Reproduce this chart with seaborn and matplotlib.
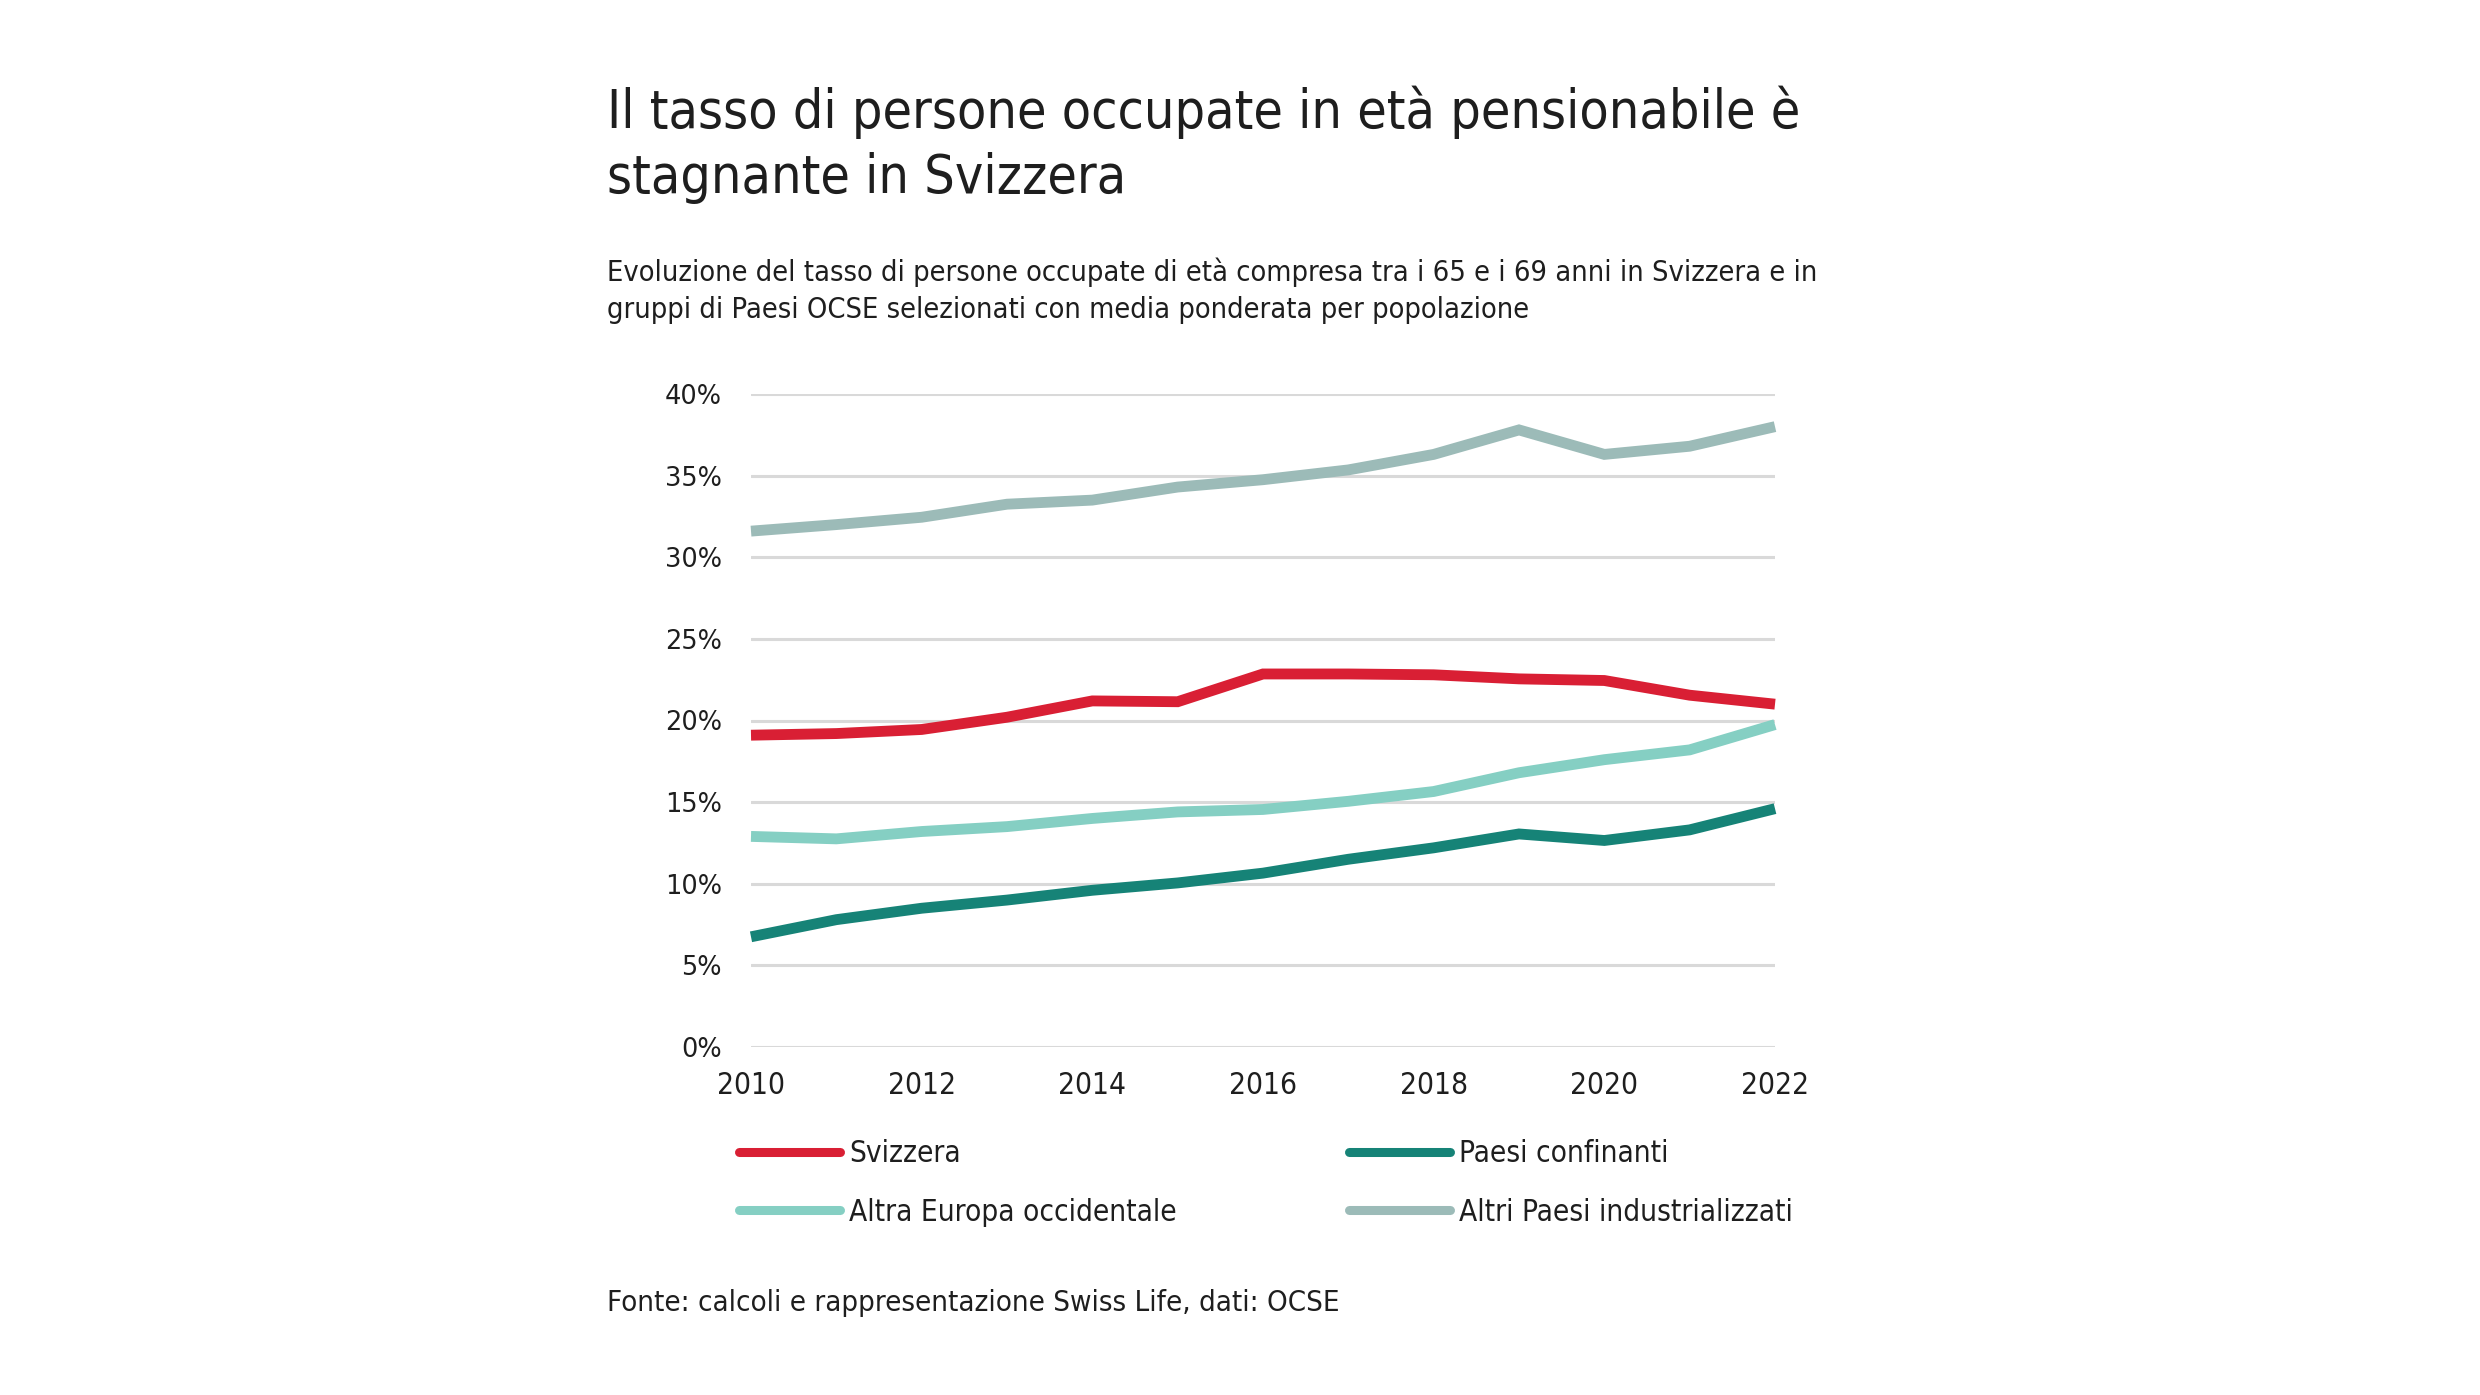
import numpy as np
import pandas as pd
import seaborn as sns
import matplotlib
matplotlib.use('Agg')
import matplotlib.pyplot as plt
from matplotlib import font_manager
from matplotlib.lines import Line2D
from matplotlib.ticker import FuncFormatter

## data (% employed, age 65-69)
years = list(range(2010, 2023))
svizzera = [19.1, 19.2, 19.45, 20.2, 21.2, 21.15, 22.85, 22.85, 22.8, 22.55, 22.45, 21.55, 21.0]
paesi_confinanti = [6.75, 7.8, 8.5, 9.0, 9.6, 10.05, 10.65, 11.5, 12.2, 13.05, 12.65, 13.3, 14.6]
altra_europa = [12.9, 12.75, 13.2, 13.5, 14.0, 14.4, 14.55, 15.05, 15.65, 16.8, 17.6, 18.2, 19.75]
altri_paesi = [31.6, 32.0, 32.45, 33.25, 33.5, 34.3, 34.75, 35.35, 36.3, 37.8, 36.3, 36.8, 38.0]

series_names = ['Svizzera', 'Paesi confinanti', 'Altra Europa occidentale', 'Altri Paesi industrializzati']
series_vals = [svizzera, paesi_confinanti, altra_europa, altri_paesi]
colors = ['#D91F34', '#168377', '#85CFC3', '#9CBBB8']

title1 = 'Il tasso di persone occupate in età pensionabile è'
title2 = 'stagnante in Svizzera'
sub1 = 'Evoluzione del tasso di persone occupate di età compresa tra i 65 e i 69 anni in Svizzera e in'
sub2 = 'gruppi di Paesi OCSE selezionati con media ponderata per popolazione'
source = 'Fonte: calcoli e rappresentazione Swiss Life, dati: OCSE'

df = pd.concat([pd.DataFrame({'anno': years, 'valore': v, 'serie': n})
                for n, v in zip(series_names, series_vals)], ignore_index=True)

sns.set_theme(style='white')

## pick a narrow face if one is installed
fonts = font_manager.fontManager.ttflist
if any(f.name == 'Liberation Sans Narrow' for f in fonts):
    nfont = dict(family='Liberation Sans Narrow')
elif any(f.name == 'DejaVu Sans' and 'condensed' in str(f.stretch) for f in fonts):
    nfont = dict(family='DejaVu Sans', stretch='condensed')
else:
    nfont = dict(family='Roboto')
plt.rcParams['font.family'] = [nfont['family'], 'DejaVu Sans']
txt_col = '#1e1e1e'

W, H = 2480, 1395
fig = plt.figure(figsize=(W / 100, H / 100), dpi=100)
renderer = fig.canvas.get_renderer()

def size_for(s, target_px, **kw):
    # font size that makes string s about target_px wide
    t = fig.text(0, 0, s, fontsize=20, **kw)
    w = t.get_window_extent(renderer).width
    t.remove()
    return 20 * target_px / w

# axes box in pixels: left 751, right 1775, top 394, bottom 1047
ax = fig.add_axes([751 / W, 1 - 1047 / H, (1775 - 751) / W, (1047 - 394) / H])

sns.lineplot(data=df, x='anno', y='valore', hue='serie', hue_order=series_names,
             palette=colors, linewidth=7.8, legend=False, ax=ax, clip_on=False)
for l in ax.get_lines():
    l.set_solid_capstyle('butt')
    l.set_solid_joinstyle('miter')

ax.set_xlim(2010, 2022)
ax.set_ylim(0, 40)
ax.set_yticks(np.arange(0, 41, 5))
ax.set_xticks(range(2010, 2023, 2))
ax.yaxis.set_major_formatter(FuncFormatter(lambda v, p: f'{v:.0f}%'))
ax.grid(axis='y', color='#D9D9D9', linewidth=2.2)
ax.grid(axis='x', visible=False)
ax.set_axisbelow(True)
for s in ax.spines.values():
    s.set_visible(False)
ax.set_xlabel('')
ax.set_ylabel('')

xsize = size_for('2010', 68, **nfont)
ysize = size_for('40%', 57, family='DejaVu Sans')
ax.tick_params(axis='y', length=0, pad=21, labelsize=ysize, labelcolor=txt_col)
ax.tick_params(axis='x', length=0, pad=17, labelsize=xsize, labelcolor=txt_col)
for t in ax.get_yticklabels():
    t.set_fontfamily('DejaVu Sans')
for t in ax.get_xticklabels():
    t.set_fontproperties(font_manager.FontProperties(size=xsize, **nfont))

## legend: two columns placed separately
lsize = size_for('Altri Paesi industrializzati', 334, **nfont)
lprop = font_manager.FontProperties(size=lsize, **nfont)
hl = 101 / (lsize * 100 / 72)
cols = [([0, 2], 739), ([1, 3], 1349)]
for idx, xpx in cols:
    hs = [Line2D([0], [0], color=colors[i], linewidth=6.5) for i in idx]
    leg = fig.legend(hs, [series_names[i] for i in idx], frameon=False, loc='upper left',
                     bbox_to_anchor=(xpx / W, 1 - 1139 / H), prop=lprop,
                     handlelength=hl, handletextpad=0.3, labelspacing=1.0,
                     borderaxespad=0, borderpad=0)
    for t in leg.get_texts():
        t.set_color(txt_col)

tsize = size_for(title1, 1193, **nfont)
fig.text(607 / W, 1 - 112 / H, title1, ha='left', va='center', fontsize=tsize, color=txt_col, **nfont)
fig.text(607 / W, 1 - 178 / H, title2, ha='left', va='center', fontsize=tsize, color=txt_col, **nfont)

ssize = size_for(sub1, 1210, **nfont)
fig.text(607 / W, 1 - 272 / H, sub1, ha='left', va='center', fontsize=ssize, color=txt_col, **nfont)
fig.text(607 / W, 1 - 310 / H, sub2, ha='left', va='center', fontsize=ssize, color=txt_col, **nfont)

fsize = size_for(source, 731, **nfont)
fig.text(607 / W, 1 - 1303 / H, source, ha='left', va='center', fontsize=fsize, color=txt_col, **nfont)

fig.savefig('out.png', dpi=100, facecolor='white')
